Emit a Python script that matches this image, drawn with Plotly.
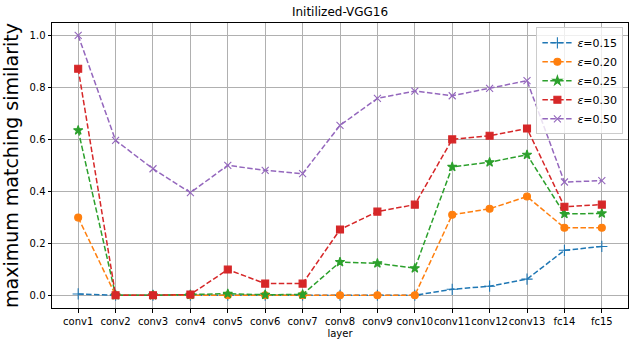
import plotly.graph_objects as go

layers = ["conv1", "conv2", "conv3", "conv4", "conv5", "conv6", "conv7", "conv8",
          "conv9", "conv10", "conv11", "conv12", "conv13", "fc14", "fc15"]

eps_015 = [0.005, 0.0, 0.0, 0.0, 0.0, 0.0, 0.0, 0.0, 0.0, 0.0, 0.023, 0.035, 0.062, 0.173, 0.188]
eps_020 = [0.299, 0.0, 0.0, 0.0, 0.0, 0.0, 0.0, 0.0, 0.0, 0.0, 0.310, 0.333, 0.380, 0.260, 0.260]
eps_025 = [0.635, 0.0, 0.0, 0.002, 0.006, 0.002, 0.003, 0.128, 0.123, 0.104, 0.494, 0.512, 0.541, 0.313, 0.315]
eps_030 = [0.872, 0.0, 0.0, 0.003, 0.099, 0.045, 0.045, 0.253, 0.322, 0.349, 0.600, 0.614, 0.642, 0.341, 0.349]
eps_050 = [1.0, 0.596, 0.487, 0.395, 0.500, 0.481, 0.468, 0.654, 0.758, 0.786, 0.768, 0.796, 0.826, 0.436, 0.441]

series = [
    ("0.15", eps_015, "#1f77b4", "cross-thin", 8),
    ("0.20", eps_020, "#ff7f0e", "circle", 7),
    ("0.25", eps_025, "#2ca02c", "star", 7),
    ("0.30", eps_030, "#d62728", "square", 7),
    ("0.50", eps_050, "#9467bd", "x-thin", 7),
]

FONT = "DejaVu Sans"

fig = go.Figure()
for label, vals, color, symbol, size in series:
    fig.add_trace(go.Scatter(
        x=list(range(len(layers))), y=vals, mode="lines+markers",
        name="<i>ε</i>=" + label,
        line=dict(color=color, width=1.5, dash="5.5px,2.4px"),
        marker=dict(symbol=symbol, size=size, color=color,
                    line=dict(color=color, width=1.1)),
    ))

axis_common = dict(
    showline=True, linecolor="black", linewidth=1, mirror=True,
    showgrid=True, gridcolor="#b0b0b0", gridwidth=1, zeroline=False,
    ticks="outside", ticklen=3.5, tickcolor="black", automargin=False,
    tickfont=dict(family=FONT, size=10, color="black"),
)

fig.update_layout(
    width=638, height=346,
    paper_bgcolor="white", plot_bgcolor="white",
    margin=dict(l=52, r=10, t=23, b=38),
    title=dict(text="Initilized-VGG16", x=0.5, xanchor="center", y=0.965, yanchor="middle",
               xref="paper", automargin=False, font=dict(family=FONT, size=12, color="black")),
    xaxis=dict(axis_common, range=[-0.7, 14.7], tickmode="array", tickangle=0,
               tickvals=list(range(len(layers))), ticktext=layers,
               title=dict(text="layer", font=dict(family=FONT, size=10, color="black"), standoff=4)),
    yaxis=dict(axis_common, range=[-0.049, 1.048], tickvals=[0.0, 0.2, 0.4, 0.6, 0.8, 1.0],
               tickformat=".1f",
               title=dict(text="maximum matching similarity", font=dict(family=FONT, size=19, color="black"),
                          standoff=8)),
    legend=dict(x=0.992, y=0.985, xanchor="right", yanchor="top",
                bgcolor="rgba(255,255,255,0.8)", bordercolor="#cccccc", borderwidth=1,
                font=dict(family=FONT, size=11, color="black"),
                itemwidth=30, tracegroupgap=0),
    showlegend=True,
)

# the page body has a default 8px margin; drop it so the figure fills the window
fig.write_html("out.html", config={"displayModeBar": False},
               post_script="document.body.style.margin='0';")
